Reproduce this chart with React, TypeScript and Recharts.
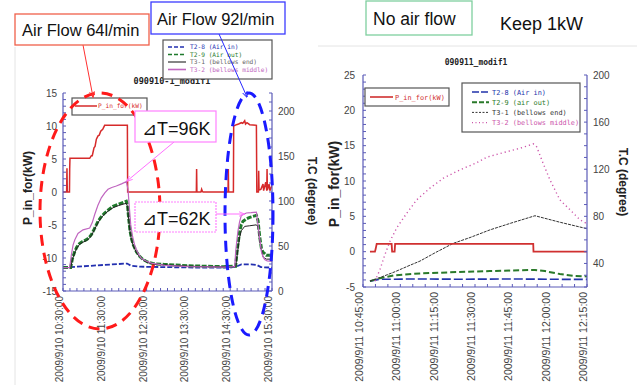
import React from "react";
import { LineChart, Line, XAxis, YAxis } from "recharts";

const SANS = "'Liberation Sans', Arial, sans-serif";
const MONO = "'DejaVu Sans Mono', 'Liberation Mono', monospace";
const FRAME = "#5b5bb8";

// ---- 2009/9/10 run (minutes after 10:30) ----
const leftTimeTicks = [0, 60, 120, 180, 240, 300];
const leftTimeLabels = [
  "2009/9/10 10:30:00", "2009/9/10 11:30:00", "2009/9/10 12:30:00",
  "2009/9/10 13:30:00", "2009/9/10 14:30:00", "2009/9/10 15:30:00",
];
// P_in_for (kW)
const leftPower = [
  [0, 0], [5.2, 0], [5.7, 3.6], [6.2, 0], [9.3, 0], [9.6, 3.5], [10, 5.1], [38.3, 5.1],
  [40.7, 5.5], [42, 5.5], [44.5, 6.7], [46, 6.9], [47.9, 8], [50.3, 8.5], [52, 8.6],
  [54.1, 9.2], [57, 9.5], [59.8, 10.1], [92.4, 10.1], [92.8, 0], [191.4, 0], [191.8, 3.5],
  [192.2, 0], [198, 0], [199, 0.4], [200, 0.1], [201, 0], [236.9, 0], [237.3, 3.5],
  [237.7, 0], [244.6, 0], [245, 10], [248.9, 10.2], [252, 10.3], [256, 10.5], [258, 10.4],
  [260.8, 10.8], [262, 10.3], [264.1, 10.5], [268, 10.2], [277.6, 10.1], [278.2, 0],
  [280.5, 0], [280.9, 3.2], [281.4, 0.3], [284, 0.4], [287.1, 1.2], [288, 0.2], [291, 1.5],
  [292.5, 0.2], [292.9, 3.5], [293.4, 0.3], [295.8, 1.2], [297, 0.2], [300, 1],
];
// T2-8 (Air in), degree
const leftAirIn = [
  [0, 26], [20, 27], [40, 28], [60, 29], [80, 30], [92, 30.5], [98, 28], [110, 27],
  [150, 26.5], [200, 26], [240, 26], [250, 27.5], [256, 29.5], [270, 29.5], [278, 29],
  [284, 26.5], [300, 26],
];
// T2-9 (Air out)
const leftAirOut = [
  [0, 26], [11, 26], [13.5, 36], [16.8, 43.7], [20, 49], [24, 53], [28, 55], [33.6, 57],
  [37, 59], [40.7, 62.5], [45, 69], [50.3, 77.4], [55, 82.5], [59.8, 86.7], [65, 90],
  [71.8, 94], [80, 96.5], [90.9, 99.8], [92.5, 96], [94.2, 81], [96, 68], [98.1, 58.7],
  [101, 51], [105.3, 43.7], [110, 38.5], [114.8, 35], [122, 32], [131.6, 30], [145.9, 29.5],
  [180, 28], [230, 27], [247.8, 27.5], [250, 45], [253.6, 66], [256, 74], [258.4, 77.4],
  [263, 80], [268, 81.8], [277.6, 84], [280, 78], [281, 70], [282.4, 60], [284.8, 47.5],
  [287, 43], [289.5, 41.5], [291.9, 39.6], [300, 39.6],
];
// T3-1 (bellows end)
const leftBellowsEnd = [
  [0, 26], [11, 26], [13.5, 35], [16.8, 42.5], [20, 48], [24, 52], [28, 54], [33.6, 56],
  [37, 58], [40.7, 61.5], [45, 68], [50.3, 76], [55, 81.5], [59.8, 85.5], [65, 89],
  [71.8, 92.5], [80, 95], [90.9, 97.5], [92.5, 94], [94.2, 80], [96, 67], [98.1, 57.5],
  [101, 50], [105.3, 43], [110, 38], [114.8, 34.5], [122, 31.5], [131.6, 29.5], [145.9, 29],
  [180, 27.5], [230, 26.8], [247.8, 27], [250, 40], [253.6, 60], [256, 67], [260.8, 71.8],
  [268, 72.5], [277.6, 73.5], [280, 71], [282.4, 55], [284.8, 46], [287.1, 38], [289.5, 36.5],
  [291.9, 35.4], [300, 35.4],
];
// T3-2 (bellows middle)
const leftBellowsMid = [
  [0, 26], [9.6, 26], [12, 40], [14.4, 51], [17, 57], [21.5, 64], [28.7, 68], [38.3, 70],
  [42, 76], [45.5, 85], [50, 95], [55, 103.5], [60, 109], [64.6, 113], [70, 115], [76.5, 116.7],
  [84, 119], [90.9, 121.5], [93.3, 113], [95, 95], [97.2, 73.7], [100, 60], [102.9, 51],
  [107, 43], [112.5, 36], [120, 33], [126.8, 31], [145.9, 28.5], [180, 27], [230, 26.5],
  [246.4, 27], [248, 45], [251, 66], [253.5, 77], [256, 84], [263.2, 86.7], [270, 87],
  [277.6, 87.6], [280, 73], [282.4, 58], [284.8, 43.7], [287, 38], [289.5, 35], [293, 33.5],
  [300, 33],
];

// ---- 2009/9/11 run (minutes after 10:45) ----
const rightTimeTicks = [0, 15, 30, 45, 60, 75, 90];
const rightTimeLabels = [
  "2009/9/11 10:45:00", "2009/9/11 11:00:00", "2009/9/11 11:15:00", "2009/9/11 11:30:00",
  "2009/9/11 11:45:00", "2009/9/11 12:00:00", "2009/9/11 12:15:00",
];
const rightPower = [
  [2.8, 0], [4.8, 0], [5.1, 0.4], [5.5, 1.1], [11.5, 1.1], [11.7, 0], [12.7, 0], [12.9, 1.1],
  [68.4, 1.1], [68.5, 0], [90, 0],
];
const rightAirIn = [[2.8, 25], [6.8, 26.5], [20, 26.8], [40, 26.6], [60, 26.8], [80, 26.5], [90, 26.5]];
const rightAirOut = [
  [2.8, 25], [6.8, 27.5], [12.9, 30], [22.9, 31.5], [35, 32.5], [51, 33.5], [69.1, 34.5],
  [73.1, 33.5], [79.1, 31], [84.3, 29.5], [90, 29],
];
const rightBellowsEnd = [
  [2.8, 25], [6.8, 28], [12.9, 33], [18.9, 38.5], [22.9, 42], [28.9, 49], [36.2, 57], [43, 62],
  [51, 68.5], [59.1, 74], [69.1, 80.5], [79.1, 75], [90, 69.5],
];
const rightBellowsMid = [
  [4.8, 25], [6.8, 34.7], [8.8, 47.4], [10.8, 58.7], [13.5, 70], [17.6, 82.7], [21.6, 94],
  [26.9, 104], [32.3, 112.4], [39, 119.5], [45.7, 125.5], [49.7, 130.2], [56.4, 134.1],
  [63.1, 137.8], [68.4, 141.5], [69.8, 139], [71.8, 128], [75.1, 111], [79.1, 94],
  [83.2, 85.5], [87.2, 77], [90, 73.7],
];

const pts = (a: number[][]) => a.map(([t, v]) => ({ t, v }));
const range = (a: number, b: number, s: number) => {
  const out: number[] = [];
  for (let x = a; x <= b + 1e-9; x += s) out.push(Math.round(x * 100) / 100);
  return out;
};

function yTick(every: number, side: "left" | "right") {
  return (p: any) => {
    const v = p.payload.value;
    if (Math.abs(v % every) > 1e-6) return <g />;
    return (
      <text x={p.x} y={p.y} dy="0.35em" textAnchor={side === "left" ? "end" : "start"}
        fontSize={10} fill="#444" fontFamily={SANS}>{v}</text>
    );
  };
}

function timeTick(ticks: number[], labels: string[], size: number) {
  return (p: any) => {
    const i = ticks.indexOf(p.payload.value);
    if (i < 0) return <g />;
    return (
      <text transform={`translate(${p.x},${p.y}) rotate(-90)`} textAnchor="end"
        fontSize={size} fill="#444" fontFamily={SANS}>{labels[i]}</text>
    );
  };
}

const axisCommon = {
  axisLine: { stroke: FRAME, strokeWidth: 1.2 },
  tickLine: { stroke: FRAME },
  tickSize: -3,
  interval: 0 as const,
  allowDataOverflow: true,
};

function LeftChart() {
  return (
    <LineChart width={320} height={385} margin={{ top: 93, right: 8, bottom: 0, left: 23 }}>
      <XAxis xAxisId="b" dataKey="t" type="number" domain={[0, 300]} ticks={range(0, 300, 10)}
        height={94} tickMargin={8} tick={timeTick(leftTimeTicks, leftTimeLabels, 10)} {...axisCommon} />
      <XAxis xAxisId="top" orientation="top" dataKey="t" type="number" domain={[0, 300]}
        ticks={range(0, 300, 10)} height={0} tick={false} {...axisCommon} />
      <YAxis yAxisId="p" domain={[-15, 15]} ticks={range(-15, 15, 1)} width={40} tickMargin={9}
        tick={yTick(5, "left")} {...axisCommon} />
      <YAxis yAxisId="t" orientation="right" domain={[0, 220]} ticks={range(0, 220, 10)} width={40}
        tickMargin={9} tick={yTick(50, "right")} {...axisCommon} />
      <Line xAxisId="b" yAxisId="p" data={pts(leftPower)} dataKey="v" type="linear" stroke="#d62a2a"
        strokeWidth={1.5} dot={false} activeDot={false} isAnimationActive={false} />
      <Line xAxisId="b" yAxisId="t" data={pts(leftAirIn)} dataKey="v" type="linear" stroke="#2330b0"
        strokeWidth={1.8} strokeDasharray="5 2" dot={false} activeDot={false} isAnimationActive={false} />
      <Line xAxisId="b" yAxisId="t" data={pts(leftAirOut)} dataKey="v" type="linear" stroke="#1f7a2c"
        strokeWidth={3} strokeDasharray="5 1.5" dot={false} activeDot={false} isAnimationActive={false} />
      <Line xAxisId="b" yAxisId="t" data={pts(leftBellowsEnd)} dataKey="v" type="linear" stroke="#222"
        strokeWidth={1} dot={false} activeDot={false} isAnimationActive={false} />
      <Line xAxisId="b" yAxisId="t" data={pts(leftBellowsMid)} dataKey="v" type="linear" stroke="#c066c0"
        strokeWidth={1.2} dot={false} activeDot={false} isAnimationActive={false} />
    </LineChart>
  );
}

function RightChart() {
  return (
    <LineChart width={317} height={385} margin={{ top: 75, right: 10, bottom: 0, left: 3 }}>
      <XAxis xAxisId="b" dataKey="t" type="number" domain={[0, 90]} ticks={range(0, 90, 5)}
        height={98} tickMargin={8} tick={timeTick(rightTimeTicks, rightTimeLabels, 10.5)} {...axisCommon} />
      <XAxis xAxisId="top" orientation="top" dataKey="t" type="number" domain={[0, 90]}
        ticks={range(0, 90, 5)} height={0} tick={false} {...axisCommon} />
      <YAxis yAxisId="p" domain={[-5, 25]} ticks={range(-5, 25, 1)} width={40} tickMargin={11}
        tick={yTick(5, "left")} {...axisCommon} />
      <YAxis yAxisId="t" orientation="right" domain={[20, 200]} ticks={range(20, 200, 10)} width={40}
        tickMargin={9} tick={yTick(40, "right")} {...axisCommon} />
      <Line xAxisId="b" yAxisId="t" data={pts(rightAirIn)} dataKey="v" type="linear" stroke="#2233aa"
        strokeWidth={1.6} strokeDasharray="9 3" dot={false} activeDot={false} isAnimationActive={false} />
      <Line xAxisId="b" yAxisId="t" data={pts(rightAirOut)} dataKey="v" type="linear" stroke="#2a7a2a"
        strokeWidth={2} strokeDasharray="6 3" dot={false} activeDot={false} isAnimationActive={false} />
      <Line xAxisId="b" yAxisId="t" data={pts(rightBellowsEnd)} dataKey="v" type="linear" stroke="#333"
        strokeWidth={1} strokeDasharray="3 1" dot={false} activeDot={false} isAnimationActive={false} />
      <Line xAxisId="b" yAxisId="t" data={pts(rightBellowsMid)} dataKey="v" type="linear" stroke="#cc55aa"
        strokeWidth={1.4} strokeDasharray="1.2 3" dot={false} activeDot={false} isAnimationActive={false} />
      <Line xAxisId="b" yAxisId="p" data={pts(rightPower)} dataKey="v" type="linear" stroke="#d03030"
        strokeWidth={1.8} dot={false} activeDot={false} isAnimationActive={false} />
    </LineChart>
  );
}

function Overlay() {
  const leftLegend = [
    { name: "T2-8 (Air in)", color: "#2330b0", dash: "4 2" },
    { name: "T2-9 (Air out)", color: "#1f7a2c", dash: "4 2" },
    { name: "T3-1 (bellows end)", color: "#666", dash: undefined },
    { name: "T3-2 (bellows middle)", color: "#c066c0", dash: undefined },
  ];
  const rightLegend = [
    { name: "T2-8 (Air in)", color: "#2233aa", dash: "7 2", w: 1.6 },
    { name: "T2-9 (air out)", color: "#2a7a2a", dash: "5 2", w: 2 },
    { name: "T3-1 (bellows end)", color: "#333", dash: "2 1.5", w: 1 },
    { name: "T3-2 (bellows middle)", color: "#cc55aa", dash: "1 2.5", w: 1.4 },
  ];
  return (
    <svg width={637} height={385} style={{ position: "absolute", left: 0, top: 0 }}>
      <defs>
        {[["ar", "#ff3030"], ["ab", "#2828ff"], ["ap", "#ff70ff"]].map(([id, c]) => (
          <marker key={id} id={id} viewBox="0 0 10 10" refX="9" refY="5" markerWidth="6" markerHeight="6" orient="auto">
            <path d="M0,1 L10,5 L0,9" fill="none" stroke={c} strokeWidth={1.5} />
          </marker>
        ))}
      </defs>
      <line x1={15} y1={47} x2={15} y2={385} stroke="#e4e4e4" />
      <line x1={318} y1={46} x2={637} y2={46} stroke="#e4e4e4" />

      {/* titles */}
      <text x={172} y={84} textAnchor="middle" fontSize={8.5} fontWeight="bold" fontFamily={MONO} fill="#222">090910-1_modif1</text>
      <text x={476} y={65} textAnchor="middle" fontSize={8} fontWeight="bold" fontFamily={MONO} fill="#222">090911_modif1</text>

      {/* axis titles */}
      <text transform="translate(32,188) rotate(-90)" textAnchor="middle" fontSize={12} fontWeight="bold" fontFamily={SANS} fill="#222">P_in_for(kW)</text>
      <text transform="translate(308,191) rotate(90)" textAnchor="middle" fontSize={12} fontWeight="bold" fontFamily={SANS} fill="#222">T.C (degree)</text>
      <text transform="translate(339,184) rotate(-90)" textAnchor="middle" fontSize={14} fontWeight="bold" fontFamily={SANS} fill="#222">P_in_for(kW)</text>
      <text transform="translate(619,182) rotate(90)" textAnchor="middle" fontSize={12} fontWeight="bold" fontFamily={SANS} fill="#222">T.C (degree)</text>

      {/* left legends */}
      <rect x={163} y={40} width={109} height={39} fill="#fff" stroke="#555" strokeWidth={1.2} />
      {leftLegend.map((d, i) => (
        <g key={d.name}>
          <line x1={168} x2={186} y1={47 + i * 7.5} y2={47 + i * 7.5} stroke={d.color} strokeWidth={1.6} strokeDasharray={d.dash} />
          <text x={190} y={49.3 + i * 7.5} fontSize={6.2} fontFamily={MONO} fill={d.color}>{d.name}</text>
        </g>
      ))}
      <rect x={72} y={98} width={75} height={17} fill="#fff" stroke="#555" strokeWidth={1.2} />
      <line x1={75} x2={97} y1={106} y2={106} stroke="#d62a2a" strokeWidth={1.5} />
      <text x={98} y={108.3} fontSize={6.2} fontFamily={MONO} fill="#d62a2a">P_in_for(kW)</text>

      {/* right legends */}
      <rect x={462} y={83} width={118} height={49} fill="#fff" stroke="#555" strokeWidth={1.2} />
      {rightLegend.map((d, i) => (
        <g key={d.name}>
          <line x1={472} x2={489} y1={92 + i * 10.2} y2={92 + i * 10.2} stroke={d.color} strokeWidth={d.w} strokeDasharray={d.dash} />
          <text x={492} y={94.5 + i * 10.2} fontSize={6.9} fontFamily={MONO} fill={d.color}>{d.name}</text>
        </g>
      ))}
      <rect x={365} y={88} width={84} height={18} fill="#fff" stroke="#555" strokeWidth={1.2} />
      <line x1={370} x2={393} y1={97} y2={97} stroke="#d03030" strokeWidth={1.6} />
      <text x={395} y={99.5} fontSize={6.9} fontFamily={MONO} fill="#d03030">P_in_for(kW)</text>

      {/* dashed ellipses */}
      <ellipse cx={100} cy={211} rx={60} ry={118} fill="none" stroke="#ff1a1a" strokeWidth={3} strokeDasharray="11 7" />
      <ellipse cx={249} cy={214} rx={24} ry={121} fill="none" stroke="#1a1aff" strokeWidth={3} strokeDasharray="11 7" />

      {/* arrows */}
      <line x1={83} y1={45} x2={93} y2={97} stroke="#ff3030" strokeWidth={1} markerEnd="url(#ar)" />
      <line x1={219} y1={34} x2={247} y2={97} stroke="#2828ff" strokeWidth={1} markerEnd="url(#ab)" />
      <line x1={174} y1={142} x2={127} y2={181} stroke="#ff70ff" strokeWidth={1} markerEnd="url(#ap)" />
      <line x1={216} y1={214} x2={244} y2={214} stroke="#ff70ff" strokeWidth={1} markerEnd="url(#ap)" />

      {/* annotation boxes */}
      <rect x={15} y={14} width={134} height={31} fill="#fff" stroke="#f0604a" strokeWidth={1.3} />
      <text x={22} y={36} fontSize={16.5} fontFamily={SANS} fill="#111">Air Flow 64l/min</text>
      <rect x={151} y={2} width={134} height={32} fill="#fff" stroke="#3b3bff" strokeWidth={1.3} />
      <text x={157} y={25} fontSize={16.5} fontFamily={SANS} fill="#111">Air Flow 92l/min</text>
      <rect x={135} y={111} width={81} height={31} fill="#fff" stroke="#ff80ff" strokeWidth={1.2} />
      <text x={142} y={135} fontSize={18} fontFamily={SANS} fill="#111">⊿T=96K</text>
      <rect x={135} y={202} width={81} height={30} fill="#fff" stroke="#ff80ff" strokeWidth={1.2} strokeDasharray="2 1" />
      <text x={142} y={225} fontSize={18} fontFamily={SANS} fill="#111">⊿T=62K</text>

      <rect x={366} y={1} width={106} height={34} fill="#fff" stroke="#7fcf9f" strokeWidth={1.3} />
      <text x={373} y={25} fontSize={17.5} fontFamily={SANS} fill="#111">No air flow</text>
      <text x={500} y={30} fontSize={18} fontFamily={SANS} fill="#111">Keep 1kW</text>
    </svg>
  );
}

export default function App() {
  return (
    <div style={{ position: "absolute", left: 0, top: 0, width: 637, height: 385, background: "#fff", overflow: "hidden" }}>
      <div style={{ position: "absolute", left: 0, top: 0 }}>
        <LeftChart />
      </div>
      <div style={{ position: "absolute", left: 320, top: 0 }}>
        <RightChart />
      </div>
      <Overlay />
    </div>
  );
}
